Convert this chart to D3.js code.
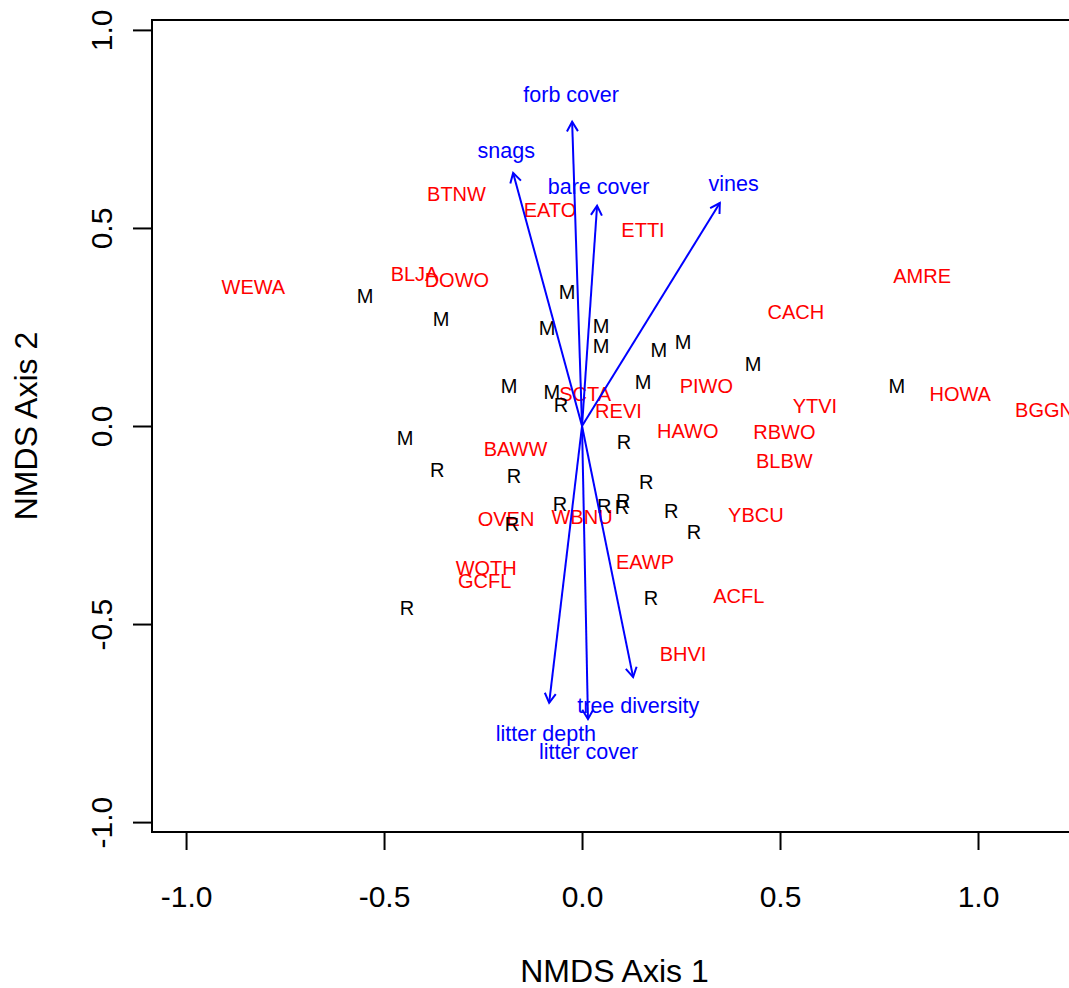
<!DOCTYPE html>
<html>
<head>
<meta charset="utf-8">
<script src="https://cdn.jsdelivr.net/npm/d3@7"></script>
<style>
  html, body { margin: 0; padding: 0; background: #fff; }
  svg { display: block; font-family: "Liberation Sans", Arial, Helvetica, sans-serif; }
</style>
</head>
<body>
<svg id="chart" width="1069" height="988"></svg>
<script>
// NMDS site scores (M / R plots)
const siteTypes = ["M","M","M","M","M","M","M","M","M","M","M","M","M","M",
                   "R","R","R","R","R","R","R","R","R","R","R","R","R","R"];
const siteX = [-0.548,-0.356,-0.038,-0.088,0.048,0.048,0.194,0.255,0.432,0.154,0.795,-0.184,-0.076,-0.447,
               -0.053,0.106,-0.366,-0.172,0.162,-0.056,-0.177,0.056,0.104,0.101,0.225,0.283,0.174,-0.442];
const siteY = [0.328,0.270,0.338,0.247,0.253,0.202,0.192,0.212,0.157,0.111,0.101,0.101,0.086,-0.030,
               0.053,-0.040,-0.111,-0.126,-0.141,-0.197,-0.247,-0.202,-0.189,-0.205,-0.215,-0.268,-0.434,-0.460];

// NMDS species scores (bird codes)
const speciesCodes = ["WEWA","BLJA","DOWO","BTNW","EATO","ETTI","AMRE","CACH","PIWO","SCTA","REVI","YTVI","HOWA",
                      "BGGN","HAWO","RBWO","BLBW","BAWW","OVEN","WBNU","YBCU","EAWP","WOTH","GCFL","ACFL","BHVI"];
const speciesX = [-0.830,-0.423,-0.316,-0.317,-0.081,0.154,0.859,0.540,0.314,0.008,0.092,0.588,0.955,
                  1.168,0.267,0.511,0.511,-0.168,-0.192,0.000,0.439,0.159,-0.242,-0.246,0.396,0.255];
const speciesY = [0.351,0.383,0.369,0.586,0.545,0.495,0.379,0.288,0.101,0.081,0.038,0.051,0.081,
                  0.040,-0.013,-0.015,-0.087,-0.058,-0.235,-0.230,-0.223,-0.342,-0.359,-0.390,-0.429,-0.576];

// Fitted habitat vectors
const envNames = ["forb cover","snags","bare cover","vines","litter depth","litter cover","tree diversity"];
const envX = [-0.025,-0.174,0.038,0.348,-0.083,0.015,0.129];
const envY = [0.768,0.639,0.556,0.563,-0.699,-0.740,-0.634];

// Axes
const xTicks = [-1, -0.5, 0, 0.5, 1];
const xTickLabels = ["-1.0","-0.5","0.0","0.5","1.0"];
const yTicks = [-1, -0.5, 0, 0.5, 1];
const yTickLabels = ["-1.0","-0.5","0.0","0.5","1.0"];
const xLimits = [-1.086, 1.250];
const yLimits = [-1.025, 1.025];
const xTitle = "NMDS Axis 1";
const yTitle = "NMDS Axis 2";

const svg = d3.select("#chart");
svg.append("rect").attr("width", 1069).attr("height", 988).attr("fill", "#fff");

const box = { left: 152, right: 1077, top: 20, bottom: 832 };
const x = d3.scaleLinear().domain(xLimits).range([box.left, box.right]);
const y = d3.scaleLinear().domain(yLimits).range([box.bottom, box.top]);

const axisFont = 30, titleFont = 32, labelFont = 20, envFont = 21.5;

// X axis
const gx = svg.append("g").attr("transform", `translate(0,${box.bottom})`)
  .call(d3.axisBottom(x).tickValues(xTicks).tickSize(18).tickSizeOuter(0)
        .tickFormat((d, i) => xTickLabels[i]));
gx.select(".domain").remove();
gx.selectAll(".tick line").attr("stroke", "#000").attr("stroke-width", 2);
gx.selectAll(".tick text").attr("fill", "#000").attr("font-size", axisFont)
  .attr("font-family", "Liberation Sans, Arial, sans-serif")
  .attr("y", 75).attr("dy", 0);

// Y axis (labels parallel to the axis)
const gy = svg.append("g").attr("transform", `translate(${box.left},0)`)
  .call(d3.axisLeft(y).tickValues(yTicks).tickSize(19).tickSizeOuter(0)
        .tickFormat((d, i) => yTickLabels[i]));
gy.select(".domain").remove();
gy.selectAll(".tick line").attr("stroke", "#000").attr("stroke-width", 2);
gy.selectAll(".tick text").attr("fill", "#000").attr("font-size", axisFont)
  .attr("font-family", "Liberation Sans, Arial, sans-serif")
  .attr("x", null).attr("dy", null)
  .attr("text-anchor", "middle")
  .attr("transform", "translate(-40,0) rotate(-90)");

// Plot frame
svg.append("rect")
  .attr("x", box.left).attr("y", box.top)
  .attr("width", box.right - box.left).attr("height", box.bottom - box.top)
  .attr("fill", "none").attr("stroke", "#000").attr("stroke-width", 2);

// Axis titles
svg.append("text").attr("x", (box.left + box.right) / 2).attr("y", 982)
  .attr("text-anchor", "middle").attr("font-size", titleFont).text(xTitle);
svg.append("text").attr("transform", `translate(37,${(box.top + box.bottom) / 2}) rotate(-90)`)
  .attr("text-anchor", "middle").attr("font-size", titleFont).text(yTitle);

// Species labels
const capShift = v => v * 0.36;
svg.append("g").selectAll("text")
  .data(speciesCodes)
  .join("text")
  .attr("x", (d, i) => x(speciesX[i]))
  .attr("y", (d, i) => y(speciesY[i]) + capShift(labelFont))
  .attr("text-anchor", "middle")
  .attr("font-size", labelFont)
  .attr("fill", "#ff0000")
  .text(d => d);

// Site symbols
svg.append("g").selectAll("text")
  .data(siteTypes)
  .join("text")
  .attr("x", (d, i) => x(siteX[i]))
  .attr("y", (d, i) => y(siteY[i]) + capShift(labelFont))
  .attr("text-anchor", "middle")
  .attr("font-size", labelFont)
  .attr("fill", "#000")
  .text(d => d);

// Habitat vectors with open arrowheads
const gEnv = svg.append("g");
const headLen = 11, headAng = Math.PI / 6;
envNames.forEach((name, i) => {
  const x0 = x(0), y0 = y(0), x1 = x(envX[i]), y1 = y(envY[i]);
  const a = Math.atan2(y1 - y0, x1 - x0);
  gEnv.append("line")
    .attr("x1", x0).attr("y1", y0).attr("x2", x1).attr("y2", y1)
    .attr("stroke", "#0000ff").attr("stroke-width", 2);
  const p = d3.path();
  p.moveTo(x1 - headLen * Math.cos(a - headAng), y1 - headLen * Math.sin(a - headAng));
  p.lineTo(x1, y1);
  p.lineTo(x1 - headLen * Math.cos(a + headAng), y1 - headLen * Math.sin(a + headAng));
  gEnv.append("path").attr("d", p.toString())
    .attr("fill", "none").attr("stroke", "#0000ff").attr("stroke-width", 2)
    .attr("stroke-linejoin", "miter");
  gEnv.append("text")
    .attr("x", x(envX[i] * 1.1))
    .attr("y", y(envY[i] * 1.1) + 3 + capShift(envFont))
    .attr("text-anchor", "middle")
    .attr("font-size", envFont)
    .attr("fill", "#0000ff")
    .text(name);
});
</script>
</body>
</html>
